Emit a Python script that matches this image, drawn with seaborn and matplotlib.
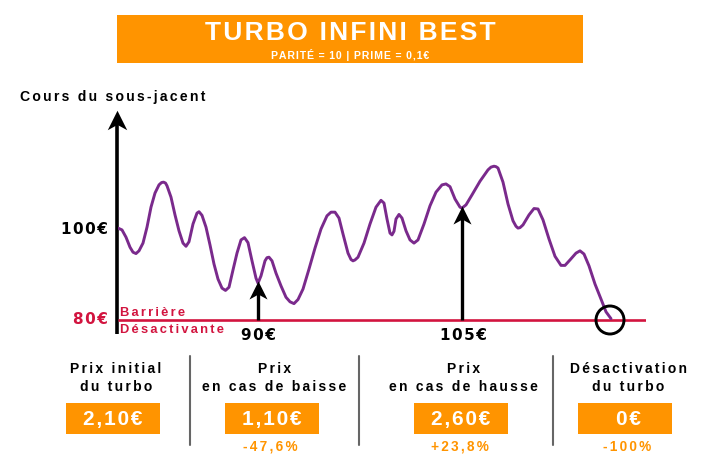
import numpy as np
import pandas as pd
import seaborn as sns
import matplotlib
matplotlib.use("Agg")
import matplotlib.pyplot as plt
from matplotlib.path import Path
from matplotlib.patches import Rectangle

# ---- data ----
time_steps = [0,4,8,12,15,18,21,25,29,33,37,41,43.5,45.5,47.5,49,53,57,61,65,68,71,75,79,81,84,88,92,96,100,104,107.5,
              111,115,119,123,126.5,130,134,138,140,143,147,149,151,154,158,163,168,172,176,180,185,191,197,203,209,
              213,217,221,225,230,233,235,237,240,246,252,258,263,266,269,272,274,276,278,281,284,288,292,296,300,306,312,
              318,324,328,332,337,342,344,348,354,362,370,373,376,378,380,385,390,395,398,400,402,405,411,416,420,425,431,437,443,
              447,452,458,462,466,471,477,483,488,493]
price = [100.2,99.8,98.2,96,94.9,94.6,95.2,96.9,100.4,104.8,107.9,109.7,110.2,110.3,110.1,109.5,107,103.1,99.6,96.9,96.2,97.2,
         101.1,103.5,103.8,103,100.4,96.5,92.3,89,87,86.5,87.2,91,94.7,97.6,98.1,97,93,89.2,88.1,89.7,93,93.7,93.8,93,
         90.3,87.5,85,84,83.6,84.5,86.8,91.2,95.8,100,102.9,103.7,103.7,102.4,98.9,94.7,93.3,93,93.2,93.8,96.9,101.1,104.8,
         106.3,105.7,102.2,99.1,98.7,99.5,102.2,103.2,102.4,99.6,97.6,96.9,97.6,101.1,105.1,108.1,109.7,109.9,
         109.3,106.6,104.8,104.6,105.3,107.5,110.5,113,113.6,113.8,113.7,113.4,110.3,105.5,101.8,100.6,100.2,100.3,100.9,103.1,104.5,
         104.4,102,97.8,94,92,92,93.2,94.7,95.2,94.5,91.9,87.9,84.6,81.8,80.3]
barrier = 80
hit_time = 492
low_time, low_price = 140, 88.1
high_time, high_price = 344, 104.6

title = "TURBO INFINI BEST"
subtitle = "PARITÉ = 10 | PRIME = 0,1€"
y_title = "Cours du sous-jacent"
columns = ["Prix initial\ndu turbo", "Prix\nen cas de baisse", "Prix\nen cas de hausse", "Désactivation\ndu turbo"]
prices = ["2,10€", "1,10€", "2,60€", "0€"]
changes = ["", "-47,6%", "+23,8%", "-100%"]

ORANGE, PURPLE, RED = "#FF9400", "#7A2A8C", "#D2143F"
W, H = 709, 456
SANS = ["Liberation Sans", "DejaVu Sans"]
BOLD = ["DejaVu Sans"]

sns.set_theme(style="white")
fig = plt.figure(figsize=(W/100, H/100), dpi=100, facecolor="white")

def track(s, n=1):
    return "\n".join(("\u200a"*n).join(line) for line in s.split("\n"))

# layout canvas in pixels
bg = fig.add_axes([0, 0, 1, 1])
bg.set_xlim(0, W); bg.set_ylim(H, 0); bg.axis("off")

# chart axes: price on y, time on x
px_l, px_r, py_t, py_b = 118, 646, 115, 340
ax = fig.add_axes([px_l/W, 1-py_b/H, (px_r-px_l)/W, (py_b-py_t)/H])
ax.patch.set_alpha(0)
ppe = 4.55
ax.set_ylim(barrier-(py_b-321)/ppe, barrier+(321-py_t)/ppe)

df = pd.DataFrame({"t": time_steps, "price": price})
ax.hlines(barrier, 0, 528, color=RED, lw=1.9, zorder=2)
sns.lineplot(data=df, x="t", y="price", ax=ax, color=PURPLE, lw=2.1, zorder=3, errorbar=None, estimator=None, sort=False,
             solid_joinstyle="round")
ax.set_xlim(0, 528); ax.axis("off")

head = Path([(0, 1), (1, -1), (0, -0.45), (-1, -1), (0, 1)],
            [Path.MOVETO, Path.LINETO, Path.LINETO, Path.LINETO, Path.CLOSEPOLY])
for t, p in [(low_time, low_price), (high_time, high_price)]:
    ax.plot([t, t], [barrier, p-1.5], color="black", lw=2.4, zorder=4, solid_capstyle="butt")
    ax.plot([t], [p-1.6], marker=head, ms=13, color="black", mew=0, zorder=5, ls="none")
ax.scatter([hit_time], [barrier], s=(28*0.72)**2, facecolors="none", edgecolors="black", linewidths=2.1, zorder=6, clip_on=False)

# y arrow
bg.plot([117, 117], [335, 125], color="black", lw=2.6, solid_capstyle="butt", zorder=2)
bg.plot([117], [121], marker=head, ms=14, color="black", mew=0, ls="none", zorder=2)

# banner
bg.add_patch(Rectangle((117, 16), 466, 48, color=ORANGE, lw=0))
bg.text(350, 33, track(title, 1), color="white", family=SANS, weight="bold", fontsize=19, ha="center", va="center")
bg.text(350, 55, track(subtitle), color="white", family=SANS, weight="bold", fontsize=7.6, ha="center", va="center")

bg.text(20, 97, track(y_title, 2), color="black", family=SANS, weight="bold", fontsize=10.1, ha="left", va="center")
bg.text(108, 230, track("100€"), color="black", family=BOLD, weight="bold", fontsize=11, ha="right", va="center")
bg.text(108, 320, track("80€"), color=RED, family=BOLD, weight="bold", fontsize=11, ha="right", va="center")
bg.text(258, 336, track("90€"), color="black", family=BOLD, weight="bold", fontsize=11, ha="center", va="center")
bg.text(463, 336, track("105€"), color="black", family=BOLD, weight="bold", fontsize=11, ha="center", va="center")
bg.text(120, 313, track("Barrière", 2), color=RED, family=SANS, weight="bold", fontsize=9.3, ha="left", va="center")
bg.text(120, 330, track("Désactivante", 2), color=RED, family=SANS, weight="bold", fontsize=9.3, ha="left", va="center")

# bottom columns
centers = [113, 272, 461, 625]
text_centers = [116, 274.5, 463.5, 628]
price_centers = [113, 272, 461, 629]
change_centers = [113, 270, 460, 627.5]
for cx, tx, px, dx, c, pr, ch in zip(centers, text_centers, price_centers, change_centers, columns, prices, changes):
    bg.text(tx, 378, track(c, 2), color="black", family=SANS, weight="bold", fontsize=10, ha="center", va="center", linespacing=1.45)
    bg.add_patch(Rectangle((cx-47, 404), 94, 31, color=ORANGE, lw=0))
    bg.text(px, 420, track(pr, 1), color="white", family=SANS, weight="bold", fontsize=15, ha="center", va="center")
    if ch:
        bg.text(dx, 447, track(ch, 2), color=ORANGE, family=SANS, weight="bold", fontsize=9.8, ha="center", va="center")
for x in [190, 359, 553]:
    bg.plot([x, x], [357, 446], color="#666666", lw=1.5)

fig.savefig("out.png", dpi=100)
